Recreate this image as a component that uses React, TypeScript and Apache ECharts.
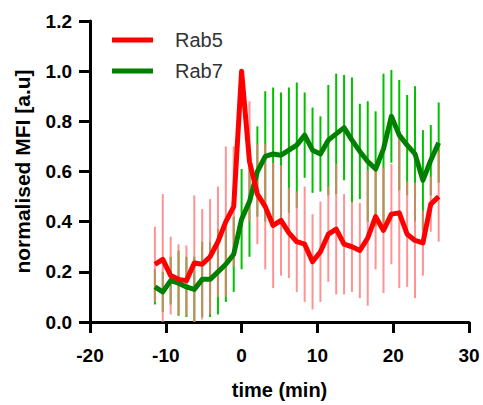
import React, { useEffect, useRef } from "react";
import * as echarts from "echarts";

const times = [-11.44, -10.4, -9.36, -8.32, -7.28, -6.24, -5.2, -4.16, -3.12, -2.08, -1.04, 0, 1.04, 2.08, 3.12, 4.16, 5.2, 6.24, 7.28, 8.32, 9.36, 10.4, 11.44, 12.48, 13.52, 14.56, 15.6, 16.64, 17.68, 18.72, 19.76, 20.8, 21.84, 22.88, 23.92, 24.96, 26];

const rab5Mean = [0.23, 0.25, 0.185, 0.17, 0.165, 0.235, 0.23, 0.26, 0.32, 0.40, 0.46, 1.0, 0.64, 0.51, 0.46, 0.385, 0.405, 0.355, 0.32, 0.31, 0.24, 0.28, 0.35, 0.37, 0.31, 0.30, 0.285, 0.335, 0.42, 0.365, 0.43, 0.435, 0.35, 0.325, 0.315, 0.47, 0.50];
const rab5Sd = [0.15, 0.26, 0.155, 0.14, 0.14, 0.27, 0.22, 0.23, 0.22, 0.30, 0.24, 0.0, 0.24, 0.20, 0.25, 0.25, 0.22, 0.18, 0.20, 0.23, 0.19, 0.20, 0.19, 0.26, 0.20, 0.18, 0.19, 0.27, 0.21, 0.25, 0.20, 0.30, 0.21, 0.23, 0.13, 0.11, 0.18];

const rab7Mean = [0.14, 0.12, 0.165, 0.155, 0.14, 0.13, 0.17, 0.17, 0.20, 0.23, 0.27, 0.41, 0.48, 0.60, 0.66, 0.67, 0.665, 0.685, 0.705, 0.745, 0.685, 0.67, 0.725, 0.75, 0.775, 0.725, 0.68, 0.64, 0.61, 0.69, 0.82, 0.745, 0.705, 0.67, 0.565, 0.645, 0.715];
const rab7Sd = [0.07, 0.08, 0.095, 0.13, 0.12, 0.13, 0.15, 0.15, 0.17, 0.15, 0.15, 0.20, 0.22, 0.18, 0.26, 0.265, 0.25, 0.25, 0.25, 0.17, 0.17, 0.15, 0.22, 0.24, 0.21, 0.25, 0.19, 0.24, 0.23, 0.30, 0.185, 0.22, 0.20, 0.27, 0.20, 0.14, 0.16];

const xTicks = { min: -20, max: 30, interval: 10 };
const yTicks = { min: 0, max: 1.2, interval: 0.2 };

const FONT = "'Liberation Sans', Arial, Helvetica, sans-serif";

function errRender(color: string) {
  return (_params: any, api: any) => {
    const x = api.value(0);
    const lo = api.value(1);
    const hi = api.value(2);
    const p1 = api.coord([x, lo]);
    const p2 = api.coord([x, hi]);
    return {
      type: "line",
      shape: { x1: p1[0], y1: p1[1], x2: p2[0], y2: p2[1] },
      style: { stroke: color, lineWidth: 2 },
    };
  };
}

export default function App() {
  const ref = useRef<HTMLDivElement>(null);
  useEffect(() => {
    if (!ref.current) return;
    const chart = echarts.init(ref.current, undefined, { renderer: "svg" });
    const errData = (m: number[], s: number[]) =>
      times.map((t, i) => [t, Math.max(0, m[i] - s[i]), m[i] + s[i]]);
    const line = (m: number[]) => times.map((t, i) => [t, m[i]]);
    chart.setOption({
      animation: false,
      grid: { left: 90, right: 14, top: 21, bottom: 83 },
      legend: {
        data: ["Rab5", "Rab7"],
        orient: "vertical",
        left: 107,
        top: 25,
        icon: "rect",
        itemWidth: 41,
        itemHeight: 5,
        itemGap: 11,
        textStyle: {
          fontFamily: FONT,
          fontSize: 20,
          color: "#333",
          lineHeight: 20,
          padding: [0, 0, 0, 17],
        },
      },
      xAxis: {
        type: "value",
        ...xTicks,
        name: "time (min)",
        nameLocation: "middle",
        nameGap: 58,
        nameTextStyle: { fontFamily: FONT, fontSize: 20, fontWeight: "bold", color: "#000" },
        axisLine: { onZero: false, lineStyle: { color: "#000", width: 3 } },
        axisTick: { length: 11, lineStyle: { color: "#000", width: 3 } },
        axisLabel: { margin: 24, fontFamily: FONT, fontSize: 19, fontWeight: "bold", color: "#000" },
        splitLine: { show: false },
      },
      yAxis: {
        type: "value",
        ...yTicks,
        name: "normalised MFI [a.u]",
        nameLocation: "middle",
        nameGap: 57,
        nameTextStyle: { fontFamily: FONT, fontSize: 21, fontWeight: "bold", color: "#000" },
        axisLine: { show: true, onZero: false, lineStyle: { color: "#000", width: 3 } },
        axisTick: { show: true, length: 11, lineStyle: { color: "#000", width: 3 } },
        axisLabel: {
          margin: 18,
          fontFamily: FONT,
          fontSize: 19,
          fontWeight: "bold",
          color: "#000",
          formatter: (v: number) => v.toFixed(1),
        },
        splitLine: { show: false },
      },
      series: [
        {
          name: "Rab7 SD",
          type: "custom",
          renderItem: errRender("#00c000"),
          encode: { x: 0, y: [1, 2] },
          data: errData(rab7Mean, rab7Sd),
          z: 1,
        },
        {
          name: "Rab5 SD",
          type: "custom",
          renderItem: errRender("rgba(255,120,120,0.8)"),
          encode: { x: 0, y: [1, 2] },
          data: errData(rab5Mean, rab5Sd),
          z: 2,
        },
        {
          name: "Rab7",
          type: "line",
          data: line(rab7Mean),
          symbol: "none",
          color: "#008000",
          lineStyle: { width: 5, color: "#008000", join: "round" },
          z: 3,
        },
        {
          name: "Rab5",
          type: "line",
          data: line(rab5Mean),
          symbol: "none",
          color: "#ff0000",
          lineStyle: { width: 5, color: "#ff0000", join: "round" },
          z: 4,
        },
      ],
    });
    return () => chart.dispose();
  }, []);
  return (
    <div
      ref={ref}
      style={{ position: "absolute", left: 0, top: 0, width: 483, height: 405, background: "#fff" }}
    />
  );
}
